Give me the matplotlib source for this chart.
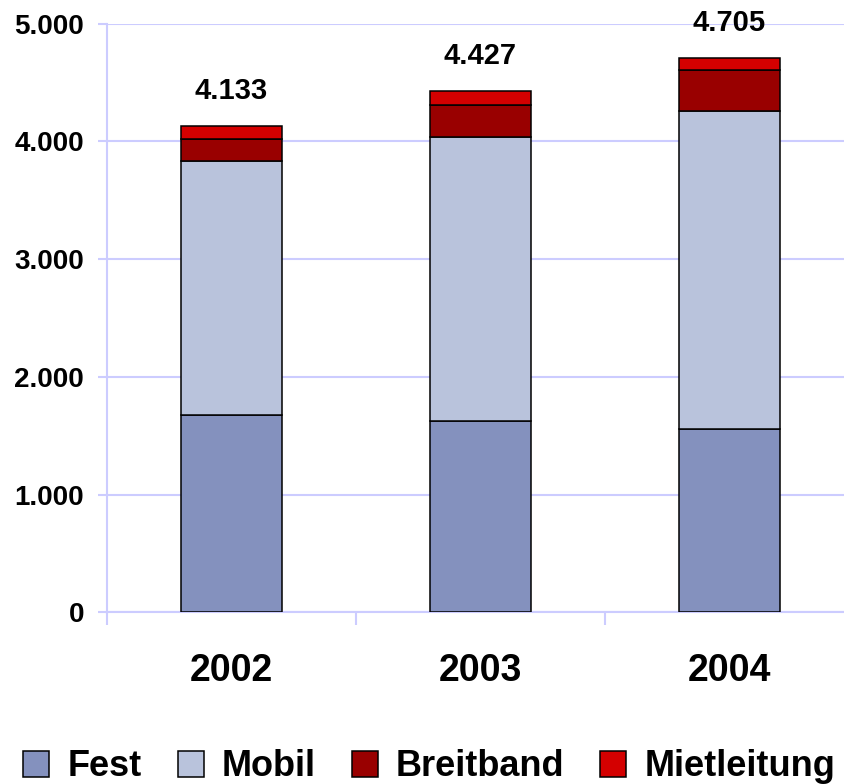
import numpy as np
import matplotlib
matplotlib.use("Agg")
import matplotlib.pyplot as plt
from matplotlib.patches import Patch
from matplotlib.ticker import FuncFormatter

plt.rcParams['font.family'] = ['Liberation Sans', 'DejaVu Sans']
plt.rcParams['font.weight'] = 'bold'

# data
years = ['2002', '2003', '2004']
fest = [1677, 1623, 1555]
mobil = [2153, 2411, 2702]
breitband = [187, 272, 351]
mietleitung = [116, 121, 97]
totals = [4133, 4427, 4705]

series_names = ['Fest', 'Mobil', 'Breitband', 'Mietleitung']
series_colors = ['#8491BE', '#B9C3DC', '#990000', '#D40000']
grid_color = '#CCCCFF'

fig = plt.figure(figsize=(8.45, 7.84), dpi=100)
ax = fig.add_axes([107 / 845, (784 - 612.3) / 784, 747 / 845, 588.7 / 784])

x = np.arange(len(years))
bottom = np.zeros(len(years))
for vals, col in zip([fest, mobil, breitband, mietleitung], series_colors):
    ax.bar(x, vals, width=0.405, bottom=bottom, color=col,
           edgecolor='black', linewidth=1.1, zorder=3)
    bottom += np.array(vals)

for xi, t in zip(x, totals):
    ax.annotate('{:,}'.format(t).replace(',', '.'), (xi, t),
                xytext=(0, 15), textcoords='offset points',
                ha='center', va='bottom', fontsize=21, fontweight='bold')

ax.set_xlim(-0.5, 2.5)
ax.set_ylim(0, 5000)
ax.set_yticks(np.arange(0, 5001, 1000))
ax.yaxis.set_major_formatter(FuncFormatter(lambda v, p: '{:,}'.format(int(v)).replace(',', '.')))
ax.grid(axis='y', color=grid_color, linewidth=1.5, zorder=0)

ax.set_xticks(x)
ax.set_xticklabels(years, fontsize=27, fontweight='bold')
ax.set_xticks([-0.5, 0.5, 1.5], minor=True)
ax.tick_params(axis='x', which='major', length=0, pad=29)
ax.tick_params(axis='x', which='minor', length=9, width=1.5, color=grid_color)
ax.tick_params(axis='y', length=6.5, width=1.5, color=grid_color, pad=10, labelsize=20)

for s in ['top', 'right']:
    ax.spines[s].set_visible(False)
for s in ['left', 'bottom']:
    ax.spines[s].set_color(grid_color)
    ax.spines[s].set_linewidth(1.5)

handles = [Patch(facecolor=c, edgecolor='black', linewidth=1.1) for c in series_colors]
fig.legend(handles, series_names, loc='lower center', bbox_to_anchor=(0.508, -0.042),
           ncol=4, frameon=False, handlelength=0.72, handleheight=0.72,
           handletextpad=0.5, columnspacing=1.0,
           prop={'size': 26, 'weight': 'bold'})

fig.savefig('out.png', dpi=100)
